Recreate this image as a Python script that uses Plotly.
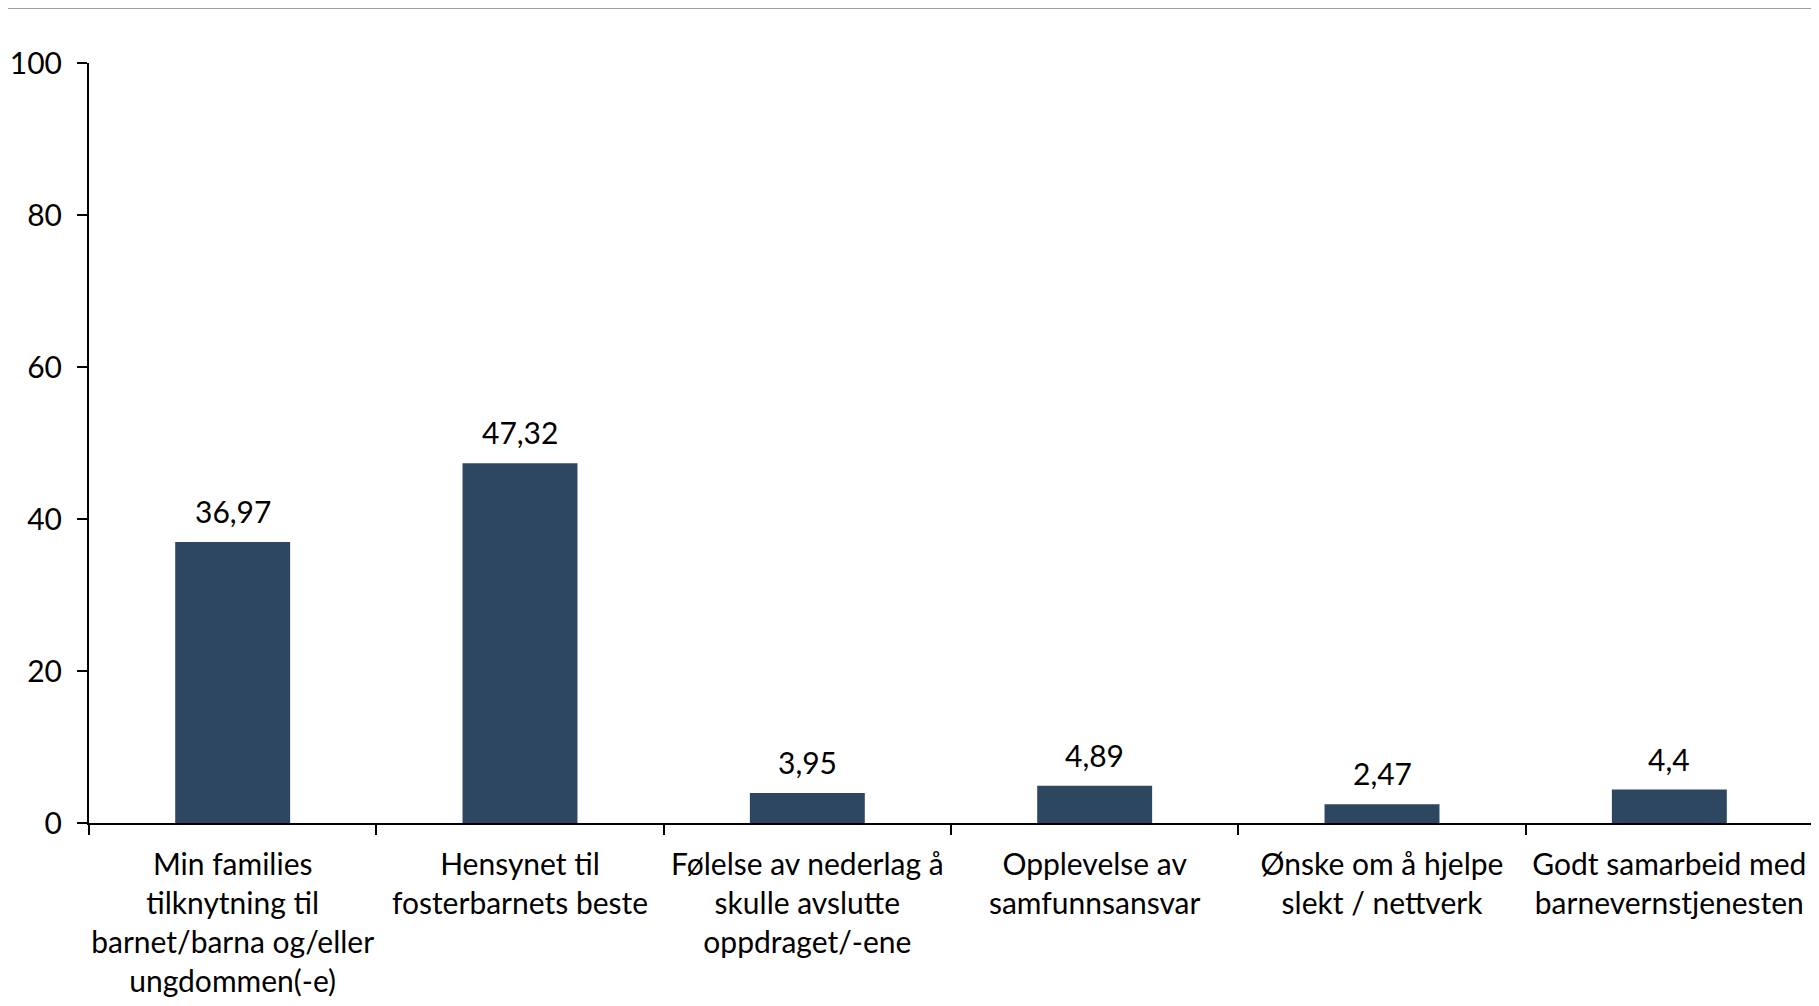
import plotly.graph_objects as go

categories = [
    "Min families<br>tilknytning til<br>barnet/barna og/eller<br>ungdommen(-e)",
    "Hensynet til<br>fosterbarnets beste",
    "Følelse av nederlag å<br>skulle avslutte<br>oppdraget/-ene",
    "Opplevelse av<br>samfunnsansvar",
    "Ønske om å hjelpe<br>slekt / nettverk",
    "Godt samarbeid med<br>barnevernstjenesten",
]
values = [36.97, 47.32, 3.95, 4.89, 2.47, 4.4]
y_ticks = [0, 20, 40, 60, 80, 100]

FONT = "Lato"
FS = 30
W, H = 1811, 998
L, R, T, B = 81, 6, 55, 183

labels = [f"{v:g}".replace(".", ",") for v in values]

fig = go.Figure()
fig.add_trace(go.Bar(
    x=categories, y=values, width=0.4,
    marker=dict(color="#2E4760", line=dict(width=0)),
    showlegend=False, hoverinfo="skip",
))

for c, v, t in zip(categories, values, labels):
    fig.add_annotation(x=c, y=v, text=t, showarrow=False, yanchor="bottom",
                       yshift=11, font=dict(family=FONT, size=FS, color="#000000"))

pw = W - L - R
ph = H - T - B
top_y = 1 + (T - 0) / ph
right_x = (1807 - L) / pw
left_x = (0 - L) / pw
fig.add_shape(type="line", xref="paper", yref="paper", x0=left_x, x1=right_x,
              y0=top_y, y1=top_y, line=dict(color="#A0A0A0", width=2))
fig.add_shape(type="line", xref="paper", yref="paper", x0=right_x, x1=right_x,
              y0=top_y, y1=-1, line=dict(color="#A0A0A0", width=2))

fig.update_layout(
    width=W, height=H,
    margin=dict(l=L, r=R, t=T, b=B, autoexpand=False),
    paper_bgcolor="white", plot_bgcolor="white",
    font=dict(family=FONT, size=FS, color="#000000"),
    bargap=0.6,
)
fig.update_xaxes(
    showline=True, linecolor="#000000", linewidth=2,
    ticks="outside", tickson="boundaries", ticklen=10, tickwidth=1.5, tickcolor="#000000",
    showgrid=False, tickangle=0, ticklabelstandoff=14,
    tickfont=dict(family=FONT, size=FS),
)
fig.update_yaxes(
    range=[0, 100], tickvals=y_ticks, ticktext=[str(v) for v in y_ticks],
    showline=True, linecolor="#000000", linewidth=2,
    ticks="outside", ticklen=10, tickwidth=1.5, tickcolor="#000000",
    showgrid=False, zeroline=False, ticklabelstandoff=9,
    tickfont=dict(family=FONT, size=FS),
)

fig.write_html("out.html")
